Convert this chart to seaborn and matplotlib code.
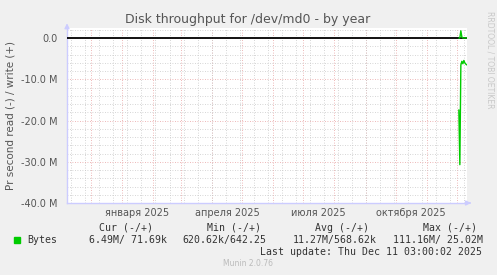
import datetime as dt
import matplotlib
matplotlib.use("Agg")
import matplotlib.pyplot as plt
import matplotlib.dates as mdates
from matplotlib.transforms import blended_transform_factory
import numpy as np
import pandas as pd
import seaborn as sns

# ---- data ----
dates = ["2025-12-03", "2025-12-04", "2025-12-05", "2025-12-06", "2025-12-07",
         "2025-12-08", "2025-12-09", "2025-12-10", "2025-12-11"]
read_m = [-17.4, -30.7, -6.5, -5.6, -6.2, -5.4, -6.0, -6.3, -6.49]     # millions, shown negative
write_m = [0.02, 0.10, 1.80, 0.30, 0.05, 0.07, 0.07, 0.07, 0.07]      # millions, positive

ytick_vals = [0, -10, -20, -30, -40]
ytick_labels = ["0.0", "-10.0 M", "-20.0 M", "-30.0 M", "-40.0 M"]
month_label_dates = ["2025-01-16", "2025-04-16", "2025-07-16", "2025-10-16"]
month_labels = ["января 2025", "апреля 2025", "июля 2025", "октября 2025"]

legend_headers = ["Cur (-/+)", "Min (-/+)", "Avg (-/+)", "Max (-/+)"]
legend_values = ["6.49M/ 71.69k", "620.62k/642.25", "11.27M/568.62k", "111.16M/ 25.02M"]
series_name = "Bytes"
title = "Disk throughput for /dev/md0 - by year"
ylabel = "Pr second read (-) / write (+)"
last_update = "Last update: Thu Dec 11 03:00:02 2025"
footer = "Munin 2.0.76"
side_text = "RRDTOOL / TOBI OETIKER"

df = pd.DataFrame({
    "date": pd.to_datetime(dates),
    "read": np.array(read_m) * 1e6,
    "write": np.array(write_m) * 1e6,
})

sns.set_theme(style="white")
plt.rcParams["font.family"] = ["DejaVu Sans"]

W, H = 497, 275
fig = plt.figure(figsize=(W / 100, H / 100), dpi=100, facecolor="#F0F0F0")
ax = fig.add_axes([67 / W, 1 - 203 / H, 400 / W, (203 - 27.5) / H])
ax.set_facecolor("white")

GREEN = "#00CC00"
ax.axhline(0, color="black", lw=1.3, zorder=3)
sns.lineplot(data=df, x="date", y="read", color=GREEN, lw=1.0, ax=ax, zorder=4)
sns.lineplot(data=df, x="date", y="write", color=GREEN, lw=1.0, ax=ax, zorder=4)

ax.set_xlim(dt.datetime(2024, 11, 7, 8), dt.datetime(2025, 12, 11, 3))
ax.set_ylim(-40e6, 2.6e6)

# grids
ax.xaxis.set_major_locator(mdates.MonthLocator())
rule = mdates.rrulewrapper(mdates.WEEKLY, interval=2, byweekday=mdates.MO,
                           dtstart=dt.datetime(2024, 11, 18))
ax.xaxis.set_minor_locator(mdates.RRuleLocator(rule))
ax.xaxis.set_major_formatter(plt.NullFormatter())
ax.yaxis.set_major_locator(plt.FixedLocator([v * 1e6 for v in ytick_vals]))
ax.yaxis.set_major_formatter(plt.FixedFormatter(ytick_labels))
ax.yaxis.set_minor_locator(plt.MultipleLocator(2e6))

ax.grid(which="minor", color="#C8C8C8", lw=0.6, ls=(0, (1, 2)), zorder=1)
ax.grid(which="major", color="#E8A0A0", lw=0.6, ls=(0, (1, 2)), zorder=2)
ax.set_axisbelow(True)

ax.tick_params(axis="y", which="major", length=3, color="#E8A0A0", pad=4,
               labelsize=7, labelcolor="#555555")
ax.tick_params(axis="y", which="minor", length=2, color="#C8C8C8")
ax.tick_params(axis="x", which="both", length=2, color="#C8C8C8", labelbottom=False)

for s in ["top", "right"]:
    ax.spines[s].set_visible(False)
for s in ["left", "bottom"]:
    ax.spines[s].set_color("#CCCCFF")
    ax.spines[s].set_linewidth(1.0)

ax.set_xlabel("")
ax.set_ylabel("")

# axis arrows
ax.annotate("", xy=(0, 1.04), xytext=(0, 0.98), xycoords="axes fraction",
            arrowprops=dict(arrowstyle="-|>", color="#CCCCFF", lw=1, mutation_scale=7),
            annotation_clip=False)
ax.annotate("", xy=(1.017, 0), xytext=(1.0, 0), xycoords="axes fraction",
            arrowprops=dict(arrowstyle="-|>", color="#CCCCFF", lw=1, mutation_scale=7),
            annotation_clip=False)

# month labels
trans = blended_transform_factory(ax.transData, fig.transFigure)
for d, lab in zip(month_label_dates, month_labels):
    ax.text(mdates.date2num(pd.Timestamp(d)), 1 - 212.5 / H, lab, transform=trans,
            ha="center", va="center", fontsize=7, color="#555555")

# title, y label, side text
fig.text(248 / W, 1 - 19 / H, title, ha="center", va="center", fontsize=9, color="#555555")
fig.text(11 / W, 1 - 116 / H, ylabel, ha="center", va="center", rotation=90,
         fontsize=7.5, color="#555555")
fig.text(490 / W, 1 - 60 / H, side_text, ha="center", va="center", rotation=270,
         fontsize=5.5, color="#C8C8C8")

# legend area
mono = "DejaVu Sans Mono"
lx = [99, 207, 315, 423]
for x, t in zip(lx, legend_headers):
    fig.text(x / W, 1 - 228 / H, t, ha="left", va="center", fontsize=7.1,
             family=mono, color="#333333")
vx = [89, 182, 293, 393]
for x, t in zip(vx, legend_values):
    fig.text(x / W, 1 - 240 / H, t, ha="left", va="center", fontsize=7.1,
             family=mono, color="#333333")
fig.text(27 / W, 1 - 240 / H, series_name, ha="left", va="center", fontsize=7.1,
         family=mono, color="#333333")
fig.patches.append(plt.Rectangle((14 / W, 1 - 243 / H), 6 / W, 6 / H,
                                 transform=fig.transFigure, color=GREEN, figure=fig))
fig.text(482 / W, 1 - 252 / H, last_update, ha="right", va="center", fontsize=7.1,
         family=mono, color="#333333")
fig.text(248 / W, 1 - 264 / H, footer, ha="center", va="center", fontsize=5.5,
         color="#BBBBBB")

fig.savefig("out.png", dpi=100, facecolor=fig.get_facecolor())
